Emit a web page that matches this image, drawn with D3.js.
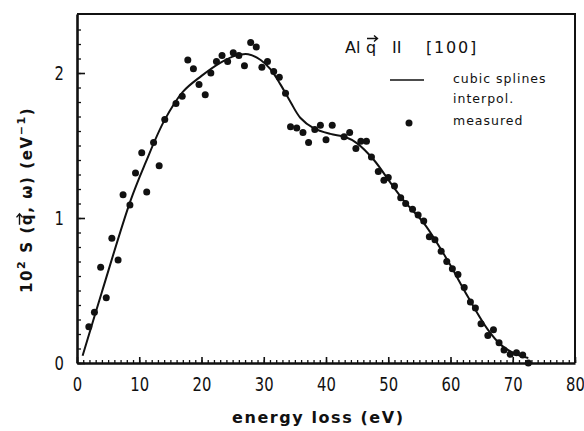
<!DOCTYPE html>
<html>
<head>
<meta charset="utf-8">
<script src="https://cdn.jsdelivr.net/npm/d3@7"></script>
<style>
body { margin:0; background:#fff; }
svg text { fill:#111; }
</style>
</head>
<body>
<div id="chart"></div>
<script>
// measured points (eV, 10^2 S)
var energy = [1.9,2.8,3.8,4.7,5.6,6.6,7.4,8.5,9.4,10.4,11.2,12.3,13.2,14.1,15.9,16.9,17.8,18.7,19.6,20.6,
    21.5,22.4,23.3,24.2,25.1,26.0,26.9,27.9,28.8,29.7,30.6,31.6,32.5,33.5,34.3,35.3,36.3,37.2,38.2,39.1,
    40.0,41.0,42.9,43.8,44.8,45.6,46.5,47.3,48.4,49.3,50.0,51.0,52.0,52.8,53.9,54.8,55.7,56.6,57.5,58.5,
    59.4,60.3,61.2,62.2,63.2,64.0,64.9,66.0,66.9,67.8,68.6,69.6,70.6,71.6,72.5];
var measured = [0.25,0.35,0.66,0.45,0.86,0.71,1.16,1.09,1.31,1.45,1.18,1.52,1.36,1.68,1.79,1.84,2.09,2.03,1.92,1.85,
    2.00,2.08,2.12,2.08,2.14,2.12,2.05,2.21,2.18,2.04,2.08,2.01,1.97,1.86,1.63,1.62,1.59,1.52,1.61,1.64,
    1.54,1.64,1.56,1.59,1.48,1.53,1.53,1.42,1.32,1.26,1.28,1.22,1.14,1.10,1.06,1.02,0.98,0.87,0.85,0.77,
    0.70,0.65,0.61,0.52,0.42,0.38,0.27,0.19,0.23,0.14,0.09,0.06,0.07,0.055,0.0];

// spline curve
var splineE = [0.9,4,8.6,11,14,17,20,23,25.5,27.5,29.5,31,32.7,34.3,35.9,38,40.7,43,45,47.7,50.4,52.5,55.8,59.5,62.75,66,68.1,70.3,72.5];
var splineS = [0.05,0.49,1.12,1.38,1.67,1.87,1.98,2.07,2.12,2.13,2.09,2.03,1.92,1.8,1.69,1.62,1.58,1.56,1.515,1.40,1.24,1.12,0.96,0.71,0.46,0.23,0.125,0.065,0.035];

var xMajor = [0,10,20,30,40,50,60,70,80];
var yMajor = [0,1,2];

const W = 584, H = 431;
const mLeft = 77, mRight = 575, mTop = 14, mBottom = 363;
const tickFont = "'DejaVu Sans',sans-serif";
const labFont = "'DejaVu Sans',sans-serif";
const squeeze = 0.74;

const svg = d3.select("#chart").append("svg")
    .attr("width", W).attr("height", H);

const x = d3.scaleLinear().domain([0, 80]).range([mLeft, mRight]);
const y = d3.scaleLinear().domain([0, 2.407]).range([mBottom, mTop]);

// frame top + right
svg.append("path")
    .attr("d", "M" + mLeft + "," + mTop + "H" + mRight + "V" + mBottom)
    .attr("fill", "none").attr("stroke", "#111").attr("stroke-width", 2);

// minor ticks
svg.append("g").attr("transform", "translate(0," + mBottom + ")")
    .call(d3.axisBottom(x).tickValues(d3.range(0, 81, 1)).tickSize(-3).tickSizeOuter(0))
    .call(g => g.select(".domain").remove())
    .call(g => g.selectAll("text").remove())
    .selectAll("line").attr("stroke", "#111").attr("stroke-width", 1.3);
svg.append("g").attr("transform", "translate(" + mLeft + ",0)")
    .call(d3.axisLeft(y).tickValues(d3.range(0, 24).map(d => d / 10)).tickSize(-4).tickSizeOuter(0))
    .call(g => g.select(".domain").remove())
    .call(g => g.selectAll("text").remove())
    .selectAll("line").attr("stroke", "#111").attr("stroke-width", 1.3);

// major axes
var xAxis = svg.append("g").attr("transform", "translate(0," + mBottom + ")")
    .call(d3.axisBottom(x).tickValues(xMajor).tickSize(-6).tickSizeOuter(0).tickPadding(14));
var yAxis = svg.append("g").attr("transform", "translate(" + mLeft + ",0)")
    .call(d3.axisLeft(y).tickValues(yMajor).tickSize(-8).tickSizeOuter(0).tickFormat(d3.format("d")));
yAxis.selectAll(".tick text")
    .attr("x", -13 / squeeze)
    .attr("text-anchor", "end");

[xAxis, yAxis].forEach(function (a) {
    a.select(".domain").attr("stroke", "#111").attr("stroke-width", 2.6);
    a.selectAll(".tick line").attr("stroke", "#111").attr("stroke-width", 1.6);
    a.selectAll(".tick text")
        .style("font-family", tickFont)
        .style("font-size", "20px")
        .attr("transform", "scale(" + squeeze + ",1)")
        .attr("fill", "#111");
});

// spline
var line = d3.line()
    .x(function (d, i) { return x(splineE[i]); })
    .y(function (d) { return y(d); })
    .curve(d3.curveCatmullRom.alpha(0.5));
svg.append("path")
    .datum(splineS)
    .attr("d", line)
    .attr("fill", "none")
    .attr("stroke", "#111")
    .attr("stroke-width", 2);

// measured dots
svg.append("g").selectAll("circle")
    .data(measured)
    .enter()
    .append("circle")
    .attr("cx", function (d, i) { return x(energy[i]); })
    .attr("cy", function (d) { return y(d); })
    .attr("r", 3.5)
    .attr("fill", "#111");

// title  Al q II [100]
var titleParts = [["Al", 345, 0], ["q", 366, 0], ["II", 392, 0], ["[100]", 426, 1.8]];
svg.selectAll("text.title")
    .data(titleParts)
    .enter()
    .append("text")
    .attr("class", "title")
    .attr("x", function (d) { return d[1]; })
    .attr("y", 53)
    .style("font-family", labFont)
    .style("font-size", "16px")
    .style("letter-spacing", function (d) { return d[2] + "px"; })
    .text(function (d) { return d[0]; });
// arrow over q
svg.append("path")
    .attr("d", "M367,38.5H377M374,35.5L377.5,38.5L374,41.5")
    .attr("fill", "none").attr("stroke", "#111").attr("stroke-width", 1.4);

// legend
svg.append("line")
    .attr("x1", 390).attr("x2", 424).attr("y1", 80).attr("y2", 80)
    .attr("stroke", "#111").attr("stroke-width", 1.6);
svg.append("circle").attr("cx", 409).attr("cy", 123).attr("r", 3.5).attr("fill", "#111");
var legendLines = [["cubic splines", 83], ["interpol.", 103], ["measured", 125]];
svg.selectAll("text.leg")
    .data(legendLines)
    .enter()
    .append("text")
    .attr("class", "leg")
    .attr("x", 453)
    .attr("y", function (d) { return d[1]; })
    .style("font-family", labFont)
    .style("font-size", "12.5px")
    .style("letter-spacing", "1px")
    .text(function (d) { return d[0]; });

// x axis label
svg.append("text")
    .attr("x", 232).attr("y", 423)
    .attr("textLength", 171).attr("lengthAdjust", "spacing")
    .style("font-family", labFont)
    .style("font-size", "16px")
    .style("font-weight", "bold")
    .text("energy loss (eV)");

// y axis label
var ylg = svg.append("g").attr("transform", "translate(32,293) rotate(-90)");
var yl = ylg.append("text")
    .style("font-family", labFont)
    .style("font-size", "15px")
    .style("font-weight", "bold")
    .style("letter-spacing", "1.6px");
yl.append("tspan").text("10");
yl.append("tspan").attr("dy", -7).style("font-size", "11px").text("2");
yl.append("tspan").attr("dy", 7).text(" S (q, \u03C9)  (eV");
yl.append("tspan").attr("dy", -7).style("font-size", "11px").text("\u22121");
yl.append("tspan").attr("dy", 7).text(")");
// arrow over the q of the y label
var qi = 7;
var q0 = yl.node().getStartPositionOfChar(qi).x;
var q1 = yl.node().getEndPositionOfChar(qi).x - 1.6;
ylg.append("path")
    .attr("d", "M" + (q0 + 0.5) + ",-12.5H" + q1 + "M" + (q1 - 3) + ",-15.5L" + (q1 + 0.5) + ",-12.5L" + (q1 - 3) + ",-9.5")
    .attr("fill", "none").attr("stroke", "#111").attr("stroke-width", 1.4);
</script>
</body>
</html>
